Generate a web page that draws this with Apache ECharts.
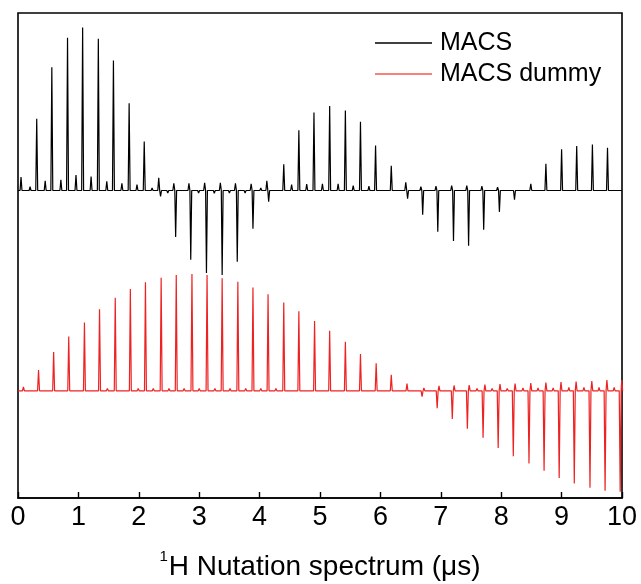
<!DOCTYPE html>
<html>
<head>
<meta charset="utf-8">
<script src="https://cdn.jsdelivr.net/npm/echarts@6/dist/echarts.min.js"></script>
<style>
html,body{margin:0;padding:0;background:#fff;}
#chart{width:641px;height:584px;}
</style>
</head>
<body>
<div id="chart"></div>
<script>
// ---- Data (x in µs, intensity in arbitrary units relative to each trace's baseline) ----
const xTicks = [0, 1, 2, 3, 4, 5, 6, 7, 8, 9, 10];
const seriesNames = ['MACS', 'MACS dummy'];

// MACS main peaks [x, intensity]
const macsPeaks = [
  [0.05, 2.8], [0.31, 14.8], [0.56, 25.4], [0.82, 31.5], [1.07, 33.6], [1.33, 31.3], [1.58, 26.8], [1.84, 18.0], [2.09, 10.1],
  [2.33, 2.6], [2.36, -1.2],
  [2.61, -9.6], [2.86, -14.3], [3.12, -17.0], [3.38, -17.4], [3.63, -14.7], [3.89, -7.9],
  [4.12, 2.0], [4.15, -2.3],
  [4.40, 5.4], [4.65, 12.4], [4.90, 16.1], [5.16, 17.4], [5.42, 16.5], [5.67, 14.2], [5.92, 9.3], [6.18, 5.1],
  [6.42, 1.7], [6.45, -1.7],
  [6.70, -5.0], [6.95, -8.5], [7.21, -10.4], [7.46, -11.4], [7.71, -8.1], [7.97, -4.4], [8.22, -1.9],
  [8.49, 1.4], [8.74, 5.5], [9.00, 8.5], [9.25, 9.2], [9.51, 9.5], [9.76, 8.8]
];
// MACS small satellite bumps and baseline ripples
const macsSatellites = [
  [0.20, 0.8], [0.45, 2.0], [0.71, 2.2], [0.96, 3.2], [1.21, 2.9], [1.47, 1.9], [1.72, 1.5], [1.97, 1.2],
  [2.22, 0.5], [2.48, -0.5],
  [2.58, 1.5], [2.74, -0.4], [2.83, 1.5], [2.99, -0.5], [3.09, 1.6], [3.25, -0.6], [3.35, 1.6], [3.50, -0.5],
  [3.60, 1.5], [3.76, -0.5], [3.86, 1.4], [4.02, 0.5],
  [4.53, 1.2], [4.78, 1.3], [5.04, 1.4], [5.30, 1.4], [5.55, 1.0], [5.81, 0.9], [6.31, 0.4],
  [6.67, 0.8], [6.92, 0.9], [7.18, 1.0], [7.43, 1.0], [7.68, 0.9], [7.94, 0.7], [8.35, 0.4],
  [8.87, 0.4], [9.13, -0.4], [9.38, 0.4], [9.64, -0.4], [9.88, 0.3]
];
// MACS dummy main peaks
const dummyPeaks = [
  [0.09, 0.8], [0.34, 4.3], [0.59, 8.0], [0.84, 11.2], [1.10, 14.1], [1.35, 16.8], [1.61, 19.2], [1.86, 21.0], [2.11, 22.4],
  [2.37, 23.3], [2.62, 23.9], [2.88, 24.1], [3.13, 23.9], [3.38, 23.2], [3.64, 22.5], [3.89, 21.3], [4.14, 19.9], [4.40, 18.2],
  [4.65, 16.4], [4.91, 14.4], [5.16, 12.4], [5.42, 10.1], [5.67, 7.6], [5.93, 5.7], [6.18, 3.3], [6.44, 1.5],
  [6.69, -1.2], [6.94, -3.6], [7.19, -5.8], [7.44, -7.8], [7.70, -9.7], [7.95, -11.8], [8.20, -13.5], [8.46, -15.0],
  [8.71, -16.5], [8.96, -18.0], [9.21, -19.1], [9.47, -20.0], [9.72, -20.6], [9.97, -20.8]
];
// MACS dummy small ripples / dispersive shoulders
const dummySatellites = [
  [0.47, 0.3], [0.72, 0.4], [0.97, 0.4], [1.23, 0.4], [1.48, 0.5], [1.73, 0.4], [1.99, 0.5], [2.24, 0.5], [2.50, 0.5],
  [2.75, 0.5], [3.00, 0.5], [3.26, 0.5], [3.51, 0.5], [3.77, 0.5], [4.02, 0.5], [4.27, 0.5], [4.53, 0.4], [4.78, 0.4],
  [5.04, 0.4], [5.29, 0.4], [5.55, 0.4], [5.80, 0.3], [6.05, 0.3],
  [6.72, 0.6], [6.97, 1.0], [7.09, 0.4], [7.22, 1.1], [7.34, 0.4], [7.47, 1.2], [7.60, 0.5], [7.73, 1.3], [7.85, 0.5],
  [7.98, 1.4], [8.10, 0.5], [8.23, 1.5], [8.36, 0.6], [8.49, 1.6], [8.61, 0.6], [8.74, 1.7], [8.86, 0.6],
  [8.99, 1.8], [9.12, 0.7], [9.24, 1.9], [9.37, 0.7], [9.50, 2.0], [9.62, 0.7], [9.75, 2.2], [9.87, 0.7], [9.995, 2.2]
];
// Vertical offsets of the stacked traces (axis units, 0..100)
const macsOffset = 63.4;
const dummyOffset = 22.1;

// ---- Build line points from peak lists ----
function spikes(lists, base, w) {
  const all = [].concat(...lists).sort((a, b) => a[0] - b[0]);
  const pts = [[0, base]];
  for (const [x, h] of all) {
    pts.push([x - w, base], [x, base + h], [x + w, base]);
  }
  pts.push([10, base]);
  return pts;
}

const chart = echarts.init(document.getElementById('chart'), null, {renderer: 'canvas'});
const font = "'Liberation Sans', Arial, Helvetica, sans-serif";

chart.setOption({
  animation: false,
  backgroundColor: '#fff',
  grid: {
    left: 18, right: 19, top: 13, bottom: 86,
    containLabel: false, outerBoundsMode: 'none',
    show: true, borderColor: '#000', borderWidth: 1.6, backgroundColor: 'transparent'
  },
  legend: {
    left: 375, top: 30.5, orient: 'vertical', itemGap: 6, padding: 0,
    icon: 'rect', itemWidth: 57, itemHeight: 1.4,
    textStyle: {fontSize: 25, lineHeight: 25, color: '#000', fontFamily: font, padding: [0, 0, 0, 3]},
    data: [
      {name: seriesNames[0], itemStyle: {color: '#000'}},
      {name: seriesNames[1], itemStyle: {color: '#f05a4c'}}
    ]
  },
  xAxis: {
    type: 'value', min: xTicks[0], max: xTicks[xTicks.length - 1], interval: 1,
    axisLine: {show: true, lineStyle: {color: '#000', width: 1.6}},
    axisTick: {show: true, inside: true, length: 6, lineStyle: {color: '#000', width: 1.4}},
    splitLine: {show: false},
    axisLabel: {fontSize: 27, color: '#000', margin: 6, fontFamily: font},
    name: '{sup|1}{n|H Nutation spectrum (μs)}',
    nameLocation: 'middle', nameGap: 55,
    nameTextStyle: {
      color: '#000', fontFamily: font,
      rich: {
        sup: {fontSize: 15, lineHeight: 15, padding: [0, 1, 17, 0], verticalAlign: 'bottom', color: '#000', fontFamily: font},
        n: {fontSize: 28, lineHeight: 28, verticalAlign: 'bottom', color: '#000', fontFamily: font}
      }
    }
  },
  yAxis: {
    type: 'value', min: 0, max: 100,
    axisLine: {show: false}, axisTick: {show: false}, axisLabel: {show: false}, splitLine: {show: false}
  },
  series: [
    {
      name: seriesNames[0], type: 'line', symbol: 'none', clip: true,
      lineStyle: {color: '#000', width: 1.2}, itemStyle: {color: '#000'},
      data: spikes([macsPeaks, macsSatellites], macsOffset, 0.016)
    },
    {
      name: seriesNames[1], type: 'line', symbol: 'none', clip: true,
      lineStyle: {color: '#ee2222', width: 1.2}, itemStyle: {color: '#ee2222'},
      data: spikes([dummyPeaks, dummySatellites], dummyOffset, 0.016)
    }
  ]
});
</script>
</body>
</html>
